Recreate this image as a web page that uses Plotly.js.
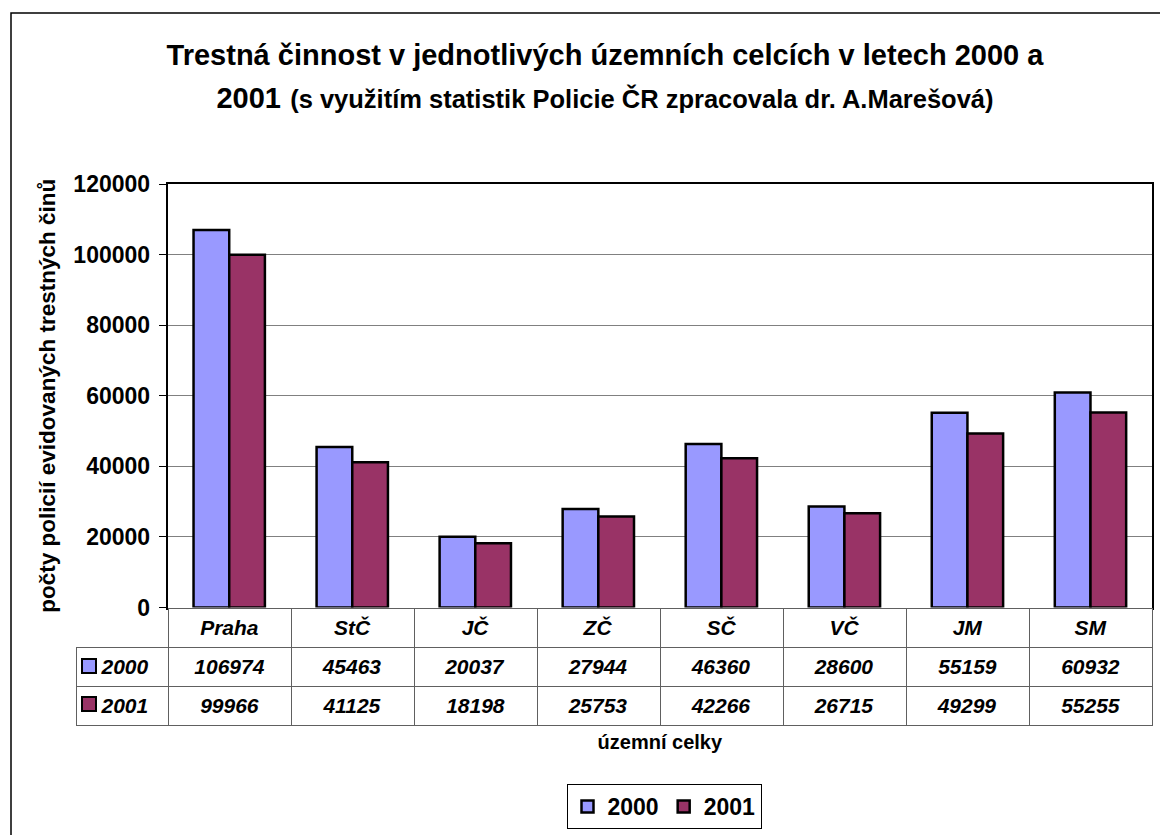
<!DOCTYPE html>
<html>
<head>
<meta charset="utf-8">
<script src="https://cdn.plot.ly/plotly-3.0.1.min.js"></script>
<style>
  body { margin: 0; background: #fff; }
  #graf { width: 1160px; height: 835px; }
</style>
</head>
<body>
<div id="graf"></div>
<script>
// uzemni celky a pocty trestnych cinu
let celky = ['Praha', 'StČ', 'JČ', 'ZČ', 'SČ', 'VČ', 'JM', 'SM'];
let rok2000 = [106974, 45463, 20037, 27944, 46360, 28600, 55159, 60932];
let rok2001 = [99966, 41125, 18198, 25753, 42266, 26715, 49299, 55255];
let roky = ['2000', '2001'];
let barvy = ['#9999FF', '#993366'];

let pismo = 'Liberation Sans, Arial, sans-serif';
let W = 1160, H = 835;
let nic = 'rgba(0,0,0,0)';

let sloupce2000 = {
	x: celky,
	y: rok2000,
	name: roky[0],
	type: 'bar',
	marker: { color: barvy[0], line: { color: '#000', width: 2.5 } },
	hoverinfo: 'y'
};
let sloupce2001 = {
	x: celky,
	y: rok2001,
	name: roky[1],
	type: 'bar',
	marker: { color: barvy[1], line: { color: '#000', width: 2.5 } },
	hoverinfo: 'y'
};

// tabulka dat pod grafem
let bi = t => '<b><i>' + t + '</i></b>';
let odsaz = '\u00a0\u00a0\u00a0';
let klic = roky.map(r => odsaz + bi(r));
let hodnoty = [klic].concat(celky.map((c, i) => [bi(rok2000[i]), bi(rok2001[i])]));
let hlavicka = [''].concat(celky.map(bi));
let sedaCara = '#606060';

let tabTop = 608, hlavV = 39, radekV = 38;
let tabulka = {
	type: 'table',
	domain: { x: [76 / W, 1152 / W], y: [1 - (tabTop + 130) / H, 1 - tabTop / H] },
	columnwidth: [92].concat(celky.map(() => 123)),
	header: {
		values: hlavicka,
		align: 'center',
		height: hlavV,
		fill: { color: [nic].concat(celky.map(() => '#fff')) },
		line: { color: [nic].concat(celky.map(() => sedaCara)), width: 1 },
		font: { family: pismo, size: 21, color: '#000' }
	},
	cells: {
		values: hodnoty,
		align: ['left'].concat(celky.map(() => 'center')),
		height: radekV,
		fill: { color: '#fff' },
		line: { color: sedaCara, width: 1 },
		font: { family: pismo, size: 21, color: '#000' }
	}
};

// barevne ctverecky klice v prvnim sloupci tabulky
let klicCtverce = roky.map((r, i) => ({
	xref: 'paper', yref: 'paper',
	x: 89 / W,
	y: 1 - (tabTop + hlavV + radekV * (i + 0.5)) / H,
	xanchor: 'center',
	yanchor: 'middle',
	text: '\u00a0',
	showarrow: false,
	width: 12, height: 12,
	bgcolor: barvy[i],
	bordercolor: '#000',
	borderwidth: 2,
	borderpad: 0,
	font: { size: 8 }
}));

let layout = {
	width: W,
	height: H,
	margin: { l: 0, r: 0, t: 0, b: 0 },
	paper_bgcolor: '#fff',
	plot_bgcolor: '#fff',
	font: { family: pismo, color: '#000' },
	title: {
		text: '<b><span style="font-size:29px">Trestná činnost v jednotlivých územních celcích v letech 2000 a</span></b><br>' +
			'<b><span style="font-size:29px">2001</span> <span style="font-size:25.5px">(s využitím statistik Policie ČR zpracovala dr. A.Marešová)</span></b>',
		font: { family: pismo, size: 33, color: '#000' },
		x: 605 / W,
		xanchor: 'center',
		y: 1 - 65 / H,
		yanchor: 'top'
	},
	barmode: 'group',
	bargap: 0.42,
	bargroupgap: 0,
	showlegend: true,
	legend: {
		orientation: 'h',
		x: 664 / W,
		xanchor: 'center',
		y: 1 - 829 / H,
		yanchor: 'bottom',
		bordercolor: '#000',
		borderwidth: 1,
		font: { family: pismo, size: 23, weight: 'bold', color: '#000' }
	},
	xaxis: {
		domain: [167.7 / W, 1152 / W],
		type: 'category',
		showticklabels: false,
		ticks: '',
		showline: true,
		mirror: true,
		linecolor: '#000',
		linewidth: 2,
		showgrid: false,
		title: {
			text: '<b>územní celky</b>',
			font: { family: pismo, size: 20, color: '#000' },
			standoff: 126
		}
	},
	yaxis: {
		domain: [1 - 607.5 / H, 1 - 184 / H],
		range: [0, 120000],
		dtick: 20000,
		tickformat: 'd',
		ticks: 'outside',
		ticklen: 7,
		tickcolor: '#000',
		tickwidth: 1,
		ticklabelstandoff: 4,
		showline: true,
		mirror: true,
		linecolor: '#000',
		linewidth: 2,
		gridcolor: '#808080',
		gridwidth: 1,
		zeroline: false,
		tickfont: { family: pismo, size: 23, weight: 'bold', color: '#000' },
		title: {
			text: '<b>počty policií evidovaných trestných činů</b>',
			font: { family: pismo, size: 22.5, color: '#000' },
			standoff: 11
		}
	},
	annotations: klicCtverce,
	shapes: [{
		type: 'rect', xref: 'paper', yref: 'paper',
		x0: 11 / W, x1: 1.05, y0: -0.05, y1: 1 - 13 / H,
		line: { color: '#000', width: 1.5 }
	}]
};

let contenedor = document.getElementById('graf');
Plotly.newPlot(contenedor, [sloupce2000, sloupce2001, tabulka], layout, { displayModeBar: false });
</script>
</body>
</html>
